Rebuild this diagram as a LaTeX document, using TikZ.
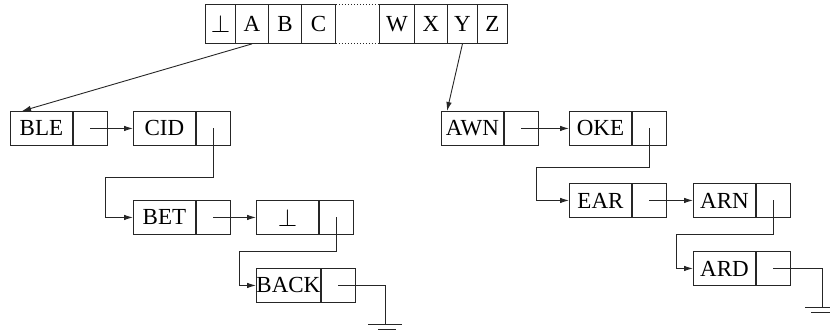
\documentclass[tikz,border=0pt]{standalone}
\usepackage{fontspec}
\setmainfont{Liberation Serif}
\usetikzlibrary{arrows.meta,calc}
\begin{document}
\begin{tikzpicture}[x=1pt,y=-1pt,
  line width=0.9pt,
  cellbase/.style={draw=black!85, rectangle, inner sep=0pt, anchor=north west,
    minimum height=34pt, font=\fontsize{23}{23}\selectfont},
  datacell/.style={cellbase, minimum width=62pt},
  ptrcell/.style={cellbase, minimum width=34pt},
  topcell/.style={cellbase, minimum height=39pt},
  wire/.style={draw=black!85},
  link/.style={wire, -{Latex[length=9pt,width=5.5pt]}}
]
\useasboundingbox (0,0) rectangle (830,333);

% table of list heads
\node[topcell, minimum width=30pt] (tbot) at (205,4) {$\perp$};
\node[topcell, minimum width=33pt] (ta) at (235,4) {A};
\node[topcell, minimum width=33pt] (tb) at (268,4) {B};
\node[topcell, minimum width=34pt] (tc) at (301,4) {C};
\node[topcell, minimum width=35pt] (tw) at (379,4) {W};
\node[topcell, minimum width=33pt] (tx) at (414,4) {X};
\node[topcell, minimum width=30pt] (ty) at (447,4) {Y};
\node[topcell, minimum width=30pt] (tz) at (477,4) {Z};
\draw[wire, dash pattern=on 1pt off 2pt] (tc.north east) -- (tw.north west);
\draw[wire, dash pattern=on 1pt off 2pt] (tc.south east) -- (tw.south west);

% left chain
\node[datacell] (ble) at (10,111) {BLE};
\node[ptrcell] (blep) at (ble.north east) {};
\node[datacell] (cid) at (133,111) {CID};
\node[ptrcell] (cidp) at (cid.north east) {};
\node[datacell] (bet) at (133,200) {BET};
\node[ptrcell] (betp) at (bet.north east) {};
\node[datacell] (nil) at (256,200) {$\perp$};
\node[ptrcell] (nilp) at (nil.north east) {};
\node[datacell] (back) at (256,268) {BACK};
\node[ptrcell] (backp) at (back.north east) {};

% right chain
\node[datacell] (awn) at (441,111) {AWN};
\node[ptrcell] (awnp) at (awn.north east) {};
\node[datacell] (oke) at (569,111) {OKE};
\node[ptrcell] (okep) at (oke.north east) {};
\node[datacell] (ear) at (569,183) {EAR};
\node[ptrcell] (earp) at (ear.north east) {};
\node[datacell] (arn) at (693,183) {ARN};
\node[ptrcell] (arnp) at (arn.north east) {};
\node[datacell] (ard) at (693,251) {ARD};
\node[ptrcell] (ardp) at (ard.north east) {};

% bend points of the wrapped links
\coordinate (k1) at (105,177);
\coordinate (k2) at (239,251);
\coordinate (k3) at (536,167);
\coordinate (k4) at (676,234);
\coordinate (g1) at (385,324);
\coordinate (g2) at (822,307);

% links from the table
\draw[link] (ta.south) -- ([xshift=12pt]ble.north west);
\draw[link] (ty.south) -- ([xshift=6pt]awn.north west);

% left links
\draw[link] (blep.center) -- (cid.west);
\draw[link] (cidp.center) |- (k1) |- (bet.west);
\draw[link] (betp.center) -- (nil.west);
\draw[link] (nilp.center) |- (k2) |- (back.west);
\draw[wire] (backp.center) -| (g1);

% right links
\draw[link] (awnp.center) -- (oke.west);
\draw[link] (okep.center) |- (k3) |- (ear.west);
\draw[link] (earp.center) -- (arn.west);
\draw[link] (arnp.center) |- (k4) |- (ard.west);
\draw[wire] (ardp.center) -| (g2);

% ground symbols
\draw[wire] ($(g1)+(-17,0)$) -- ($(g1)+(17,0)$);
\draw[wire] ($(g1)+(-7,5)$) -- ($(g1)+(11,5)$);
\draw[wire] ($(g2)+(-17,0)$) -- ($(g2)+(17,0)$);
\draw[wire] ($(g2)+(-11,5)$) -- ($(g2)+(11,5)$);
\end{tikzpicture}
\end{document}
